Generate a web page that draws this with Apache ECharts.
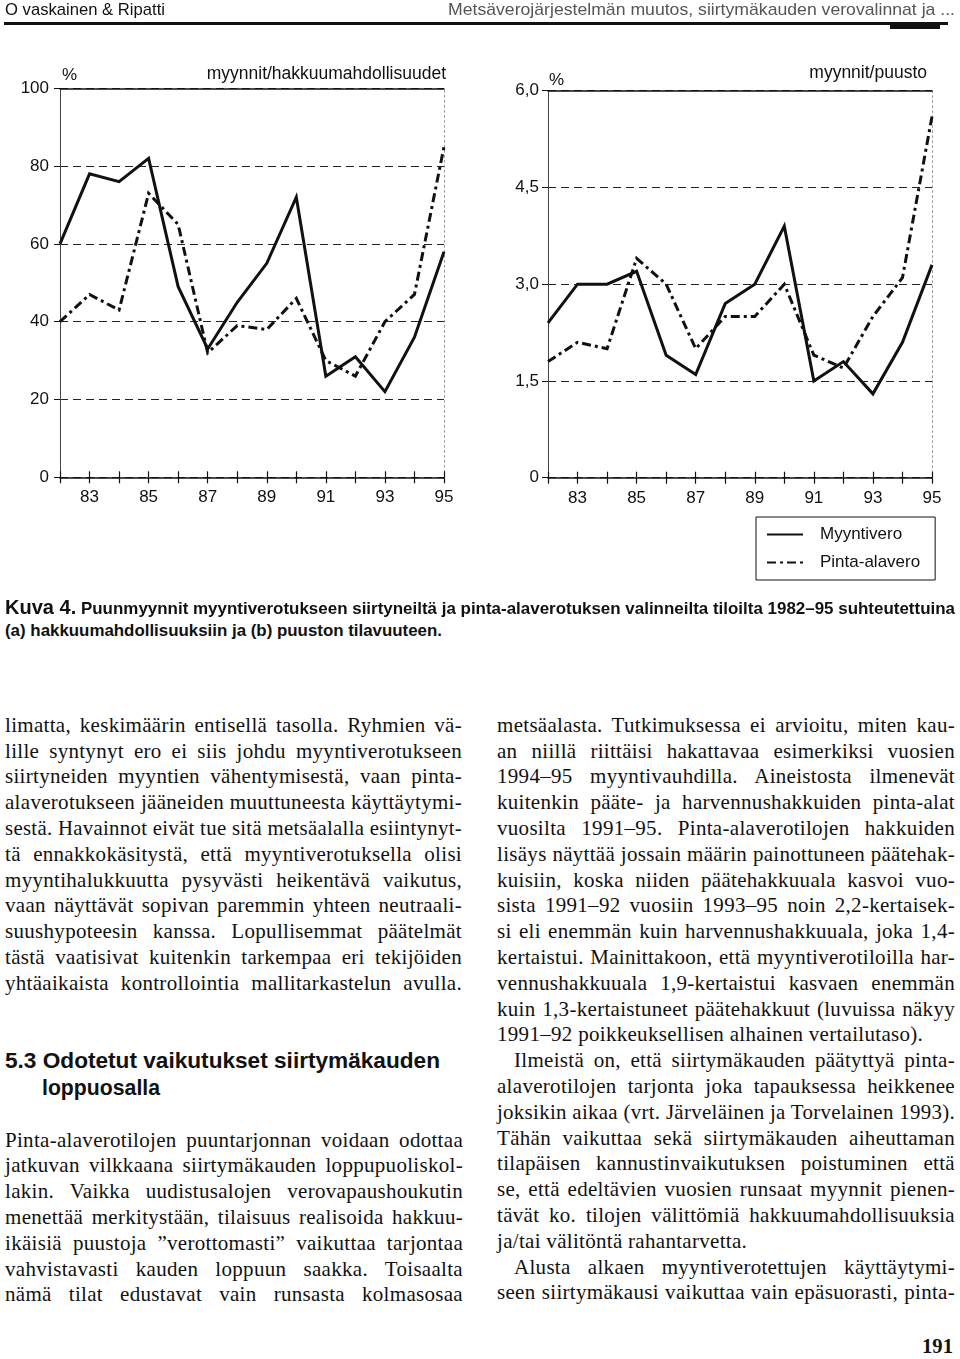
<!DOCTYPE html>
<html><head><meta charset="utf-8">
<script src="https://cdn.jsdelivr.net/npm/echarts@6/dist/echarts.min.js"></script>
<style>
html,body{margin:0;padding:0;background:#fff;}
body{width:960px;height:1359px;position:relative;overflow:hidden;}
#chart{position:absolute;left:0;top:0;width:960px;height:600px;}
.ln{position:absolute;white-space:nowrap;color:#111;transform-origin:0 0;}
.serif{font-family:"Liberation Serif","Times New Roman",serif;font-size:21px;letter-spacing:0.3px;}
.sans{font-family:"Liberation Sans",Arial,Helvetica,sans-serif;}
.rule{position:absolute;background:#111;}
</style></head><body>
<div id="chart"></div>
<div class="rule" style="left:4px;top:22px;width:944px;height:3px;"></div>
<div class="rule" style="left:890px;top:23px;width:50px;height:6px;"></div>
<script>
// ---------- chart data ----------
const years = ['1982','1983','1984','1985','1986','1987','1988','1989','1990','1991','1992','1993','1994','1995'];
const yearLabels = ['', '83', '', '85', '', '87', '', '89', '', '91', '', '93', '', '95'];
const myyntiveroA = [60, 78, 76, 82, 49, 33, 45, 55, 72, 26, 31, 22, 36, 58];
const pintaAlaveroA = [40, 47, 43, 73, 65, 32, 39, 38, 46, 30, 26, 40, 47, 85];
const myyntiveroB = [2.4, 3.0, 3.0, 3.2, 1.9, 1.6, 2.7, 3.0, 3.9, 1.5, 1.8, 1.3, 2.1, 3.3];
const pintaAlaveroB = [1.8, 2.1, 2.0, 3.4, 3.0, 2.0, 2.5, 2.5, 3.0, 1.9, 1.7, 2.5, 3.1, 5.6];
const yLabelsA = ['0', '20', '40', '60', '80', '100'];
const yLabelsB = ['0', '1,5', '3,0', '4,5', '6,0'];
const seriesNames = ['Myyntivero', 'Pinta-alavero'];
const titleA = 'myynnit/hakkuumahdollisuudet';
const titleB = 'myynnit/puusto';

// ---------- page text ----------
const headerLeft = 'O vaskainen & Ripatti';
const headerRight = 'Metsäverojärjestelmän muutos, siirtymäkauden verovalinnat ja ...';
const captionLabel = 'Kuva 4.';
const captionLine1 = 'Puunmyynnit myyntiverotukseen siirtyneiltä ja pinta-alaverotuksen valinneilta tiloilta 1982–95 suhteutettuina';
const captionLine2 = '(a) hakkuumahdollisuuksiin ja (b) puuston tilavuuteen.';
const leftPara1 = [
 'limatta, keskimäärin entisellä tasolla. Ryhmien vä-',
 'lille syntynyt ero ei siis johdu myyntiverotukseen',
 'siirtyneiden myyntien vähentymisestä, vaan pinta-',
 'alaverotukseen jääneiden muuttuneesta käyttäytymi-',
 'sestä. Havainnot eivät tue sitä metsäalalla esiintynyt-',
 'tä ennakkokäsitystä, että myyntiverotuksella olisi',
 'myyntihalukkuutta pysyvästi heikentävä vaikutus,',
 'vaan näyttävät sopivan paremmin yhteen neutraali-',
 'suushypoteesin kanssa. Lopullisemmat päätelmät',
 'tästä vaatisivat kuitenkin tarkempaa eri tekijöiden',
 'yhtäaikaista kontrollointia mallitarkastelun avulla.'
];
const headingLines = ['5.3 Odotetut vaikutukset siirtymäkauden', 'loppuosalla'];
const leftPara2 = [
 'Pinta-alaverotilojen puuntarjonnan voidaan odottaa',
 'jatkuvan vilkkaana siirtymäkauden loppupuoliskol-',
 'lakin. Vaikka uudistusalojen verovapaushoukutin',
 'menettää merkitystään, tilaisuus realisoida hakkuu-',
 'ikäisiä puustoja ”verottomasti” vaikuttaa tarjontaa',
 'vahvistavasti kauden loppuun saakka. Toisaalta',
 'nämä tilat edustavat vain runsasta kolmasosaa'
];
const rightCol = [
 {t:'metsäalasta. Tutkimuksessa ei arvioitu, miten kau-'},
 {t:'an niillä riittäisi hakattavaa esimerkiksi vuosien'},
 {t:'1994–95 myyntivauhdilla. Aineistosta ilmenevät'},
 {t:'kuitenkin pääte- ja harvennushakkuiden pinta-alat'},
 {t:'vuosilta 1991–95. Pinta-alaverotilojen hakkuiden'},
 {t:'lisäys näyttää jossain määrin painottuneen päätehak-'},
 {t:'kuisiin, koska niiden päätehakkuuala kasvoi vuo-'},
 {t:'sista 1991–92 vuosiin 1993–95 noin 2,2-kertaisek-'},
 {t:'si eli enemmän kuin harvennushakkuuala, joka 1,4-'},
 {t:'kertaistui. Mainittakoon, että myyntiverotiloilla har-'},
 {t:'vennushakkuuala 1,9-kertaistui kasvaen enemmän'},
 {t:'kuin 1,3-kertaistuneet päätehakkuut (luvuissa näkyy'},
 {t:'1991–92 poikkeuksellisen alhainen vertailutaso).', last:true},
 {t:'Ilmeistä on, että siirtymäkauden päätyttyä pinta-', indent:true},
 {t:'alaverotilojen tarjonta joka tapauksessa heikkenee'},
 {t:'joksikin aikaa (vrt. Järveläinen ja Torvelainen 1993).'},
 {t:'Tähän vaikuttaa sekä siirtymäkauden aiheuttaman'},
 {t:'tilapäisen kannustinvaikutuksen poistuminen että'},
 {t:'se, että edeltävien vuosien runsaat myynnit pienen-'},
 {t:'tävät ko. tilojen välittömiä hakkuumahdollisuuksia'},
 {t:'ja/tai välitöntä rahantarvetta.', last:true},
 {t:'Alusta alkaen myyntiverotettujen käyttäytymi-', indent:true},
 {t:'seen siirtymäkausi vaikuttaa vain epäsuorasti, pinta-'}
];
const pageNumber = '191';

// ---------- text layout ----------
const items = [];
function addLine(text, x, baseline, opts) {
  const el = document.createElement('div');
  el.className = 'ln ' + (opts.cls || 'serif');
  if (opts.html) el.innerHTML = opts.html; else el.textContent = text;
  if (opts.style) el.style.cssText += opts.style;
  el.style.left = x + 'px';
  document.body.appendChild(el);
  items.push(Object.assign({el: el, x: x, baseline: baseline}, opts));
}
const LH = 25.8, COLW = 458;
leftPara1.forEach((t, i) => addLine(t, 5, 731.7 + i * LH, {w: COLW - 1, mode: 'justify'}));
addLine(headingLines[0], 5, 1068, {cls: 'sans', style: 'font-size:22px;font-weight:bold;', w: 435, mode: 'scale'});
addLine(headingLines[1], 42, 1095, {cls: 'sans', style: 'font-size:22px;font-weight:bold;', w: 118, mode: 'scale'});
leftPara2.forEach((t, i) => addLine(t, 5, 1146.5 + i * LH, {w: COLW, mode: 'justify'}));
rightCol.forEach((r, i) => {
  const x = r.indent ? 514 : 497;
  addLine(r.t, x, 731.7 + i * LH, r.last ? {} : {w: 955 - x, mode: 'justify'});
});
addLine(pageNumber, 922, 1353, {style: 'font-size:21px;font-weight:bold;letter-spacing:0;', w: 31, mode: 'scale'});
addLine(headerLeft, 5, 15, {cls: 'sans', style: 'font-size:17px;', w: 160, mode: 'scale'});
addLine(headerRight, 448, 15, {cls: 'sans', style: 'font-size:17px;color:#555;', w: 507, mode: 'scale'});
addLine('', 5, 614, {cls: 'sans', style: 'font-size:16.5px;font-weight:bold;',
  html: '<span style="font-size:19.5px">' + captionLabel + '</span> ' + captionLine1, w: 950, mode: 'scale'});
addLine(captionLine2, 5, 636, {cls: 'sans', style: 'font-size:17px;font-weight:bold;', w: 437, mode: 'scale'});

function layoutText() {
  for (const it of items) {
    const el = it.el;
    el.style.wordSpacing = '0px';
    el.style.transform = 'none';
    el.style.top = '0px';
    const nat = el.getBoundingClientRect().width;
    if (it.w) {
      if (it.mode === 'justify') {
        const n = (el.textContent.match(/ /g) || []).length;
        const diff = it.w - nat;
        if (diff >= 0 && n > 0) el.style.wordSpacing = (diff / n) + 'px';
        else el.style.transform = 'scaleX(' + (it.w / nat) + ')';
      } else {
        el.style.transform = 'scaleX(' + (it.w / nat) + ')';
      }
    }
    const p = document.createElement('span');
    p.style.cssText = 'display:inline-block;width:0;height:0;vertical-align:baseline;';
    el.appendChild(p);
    const off = p.offsetTop;
    el.removeChild(p);
    el.style.top = (it.baseline - off) + 'px';
  }
}
layoutText();
if (document.fonts && document.fonts.ready) document.fonts.ready.then(layoutText);

// ---------- chart ----------
const FONT = '"Liberation Sans", Arial, Helvetica, sans-serif';
const INK = '#111';
function xAxes(g) {
  return [
    {type: 'category', gridIndex: g, data: years, boundaryGap: false, position: 'bottom',
     axisLine: {show: true, lineStyle: {color: INK, width: 1.5}},
     axisTick: {show: true, length: 6, interval: 0, lineStyle: {color: INK, width: 1.2}},
     axisLabel: {interval: 0, margin: 12, fontSize: 17, fontFamily: FONT, color: INK,
                 formatter: (v, i) => yearLabels[i]},
     splitLine: {show: false}},
    {type: 'category', gridIndex: g, data: years, boundaryGap: false, position: 'bottom',
     axisLine: {show: false},
     axisTick: {show: true, inside: true, length: 6, interval: 0, lineStyle: {color: INK, width: 1.2}},
     axisLabel: {show: false}, splitLine: {show: false}},
    {type: 'category', gridIndex: g, data: years, boundaryGap: false, position: 'top',
     axisLine: {show: true, lineStyle: {color: INK, width: 1.5}},
     axisTick: {show: false}, axisLabel: {show: false}, splitLine: {show: false}}
  ];
}
function yAxes(g, max, step, labels, margin) {
  return [
    {type: 'value', gridIndex: g, min: 0, max: max, interval: step, position: 'left',
     axisLine: {show: true, lineStyle: {color: '#444', width: 1}},
     axisTick: {show: true, length: 6, lineStyle: {color: INK, width: 1}},
     axisLabel: {margin: margin, fontSize: 17, fontFamily: FONT, color: INK,
                 formatter: v => labels[Math.round(v / step)]},
     splitLine: {show: true, lineStyle: {type: [8, 5], color: '#222', width: 1}}},
    {type: 'value', gridIndex: g, min: 0, max: max, interval: step, position: 'right',
     axisLine: {show: true, lineStyle: {color: '#999', width: 1, type: [2, 3]}},
     axisTick: {show: false}, axisLabel: {show: false}, splitLine: {show: false}}
  ];
}
const solid = {color: INK, width: 3, join: 'miter', cap: 'butt'};
const dashDot = {color: INK, width: 3, type: [9, 4, 3, 4], join: 'miter', cap: 'butt'};
function lineSeries(name, data, xi, yi, style) {
  return {name: name, type: 'line', xAxisIndex: xi, yAxisIndex: yi, data: data,
          symbol: 'none', showSymbol: false, lineStyle: style, itemStyle: {color: INK},
          silent: true, z: 5};
}
const chart = echarts.init(document.getElementById('chart'), null, {renderer: 'canvas'});
chart.setOption({
  animation: false,
  backgroundColor: 'transparent',
  grid: [
    {left: 60, top: 88.3, width: 384, height: 389, outerBoundsMode: 'none', containLabel: false},
    {left: 548, top: 90.7, width: 384, height: 387, outerBoundsMode: 'none', containLabel: false}
  ],
  xAxis: xAxes(0).concat(xAxes(1)),
  yAxis: yAxes(0, 100, 20, yLabelsA, 11).concat(yAxes(1, 6, 1.5, yLabelsB, 9)),
  legend: {
    data: seriesNames, left: 756, top: 517, orient: 'vertical',
    itemWidth: 36, itemHeight: 14, itemGap: 11, padding: [9, 15, 9, 10],
    borderColor: INK, borderWidth: 1,
    itemStyle: {color: 'transparent', borderColor: 'transparent', borderWidth: 0},
    textStyle: {fontSize: 17, fontFamily: FONT, color: INK, padding: [0, 0, 0, 12]}
  },
  graphic: [
    {type: 'text', silent: true, style: {x: 62, y: 75, text: '%', font: '17px ' + FONT, fill: INK, textAlign: 'left', textVerticalAlign: 'middle'}},
    {type: 'text', silent: true, style: {x: 446, y: 74, text: titleA, font: '17.5px ' + FONT, fill: INK, textAlign: 'right', textVerticalAlign: 'middle'}},
    {type: 'text', silent: true, style: {x: 549, y: 80, text: '%', font: '17px ' + FONT, fill: INK, textAlign: 'left', textVerticalAlign: 'middle'}},
    {type: 'text', silent: true, style: {x: 927, y: 73, text: titleB, font: '17.5px ' + FONT, fill: INK, textAlign: 'right', textVerticalAlign: 'middle'}}
  ],
  series: [
    lineSeries(seriesNames[0], myyntiveroA, 0, 0, solid),
    lineSeries(seriesNames[1], pintaAlaveroA, 0, 0, dashDot),
    lineSeries(seriesNames[0], myyntiveroB, 3, 2, solid),
    lineSeries(seriesNames[1], pintaAlaveroB, 3, 2, dashDot)
  ]
});
</script>
</body></html>
